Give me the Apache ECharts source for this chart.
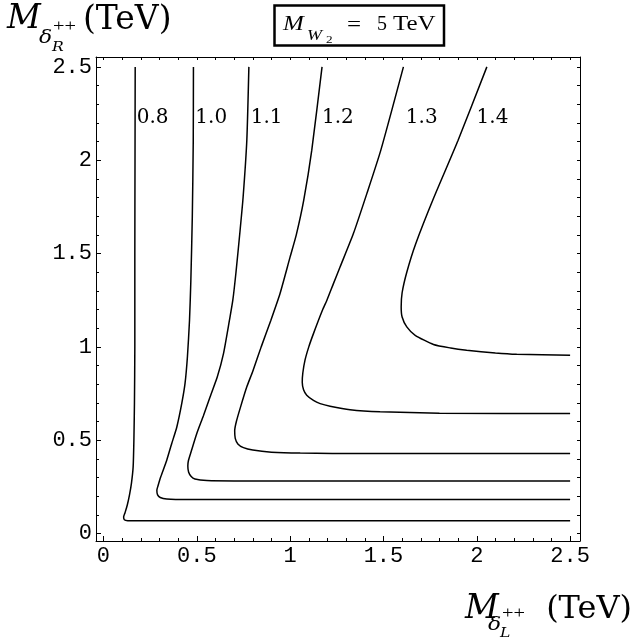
<!DOCTYPE html>
<html><head><meta charset="utf-8">
<script src="https://cdn.jsdelivr.net/npm/echarts@6/dist/echarts.min.js"></script>
<style>html,body{margin:0;padding:0;background:#fff}#c{width:636px;height:641px}</style>
</head><body><div id="c"></div><script>
// ---- data ----
const contourLevels = ['0.8', '1.0', '1.1', '1.2', '1.3', '1.4'];
const curve08 = [[0.170,2.5],[0.169,2.0],[0.168,1.5],[0.168,1.0],[0.166,0.7],[0.163,0.5],[0.159,0.357],[0.150,0.27],[0.140,0.21],[0.127,0.15],[0.115,0.11],[0.108,0.088],[0.112,0.074],[0.13,0.069],[0.18,0.068],[0.5,0.068],[1.5,0.068],[2.5,0.068]];
const curve10 = [[0.482,2.5],[0.481,2.1],[0.476,1.7],[0.468,1.35],[0.461,1.143],[0.450,0.95],[0.437,0.804],[0.420,0.70],[0.393,0.571],[0.365,0.48],[0.339,0.393],[0.307,0.304],[0.292,0.255],[0.286,0.232],[0.290,0.207],[0.304,0.193],[0.339,0.185],[0.45,0.182],[1.0,0.182],[2.5,0.182]];
const curve11 = [[0.779,2.5],[0.768,2.107],[0.748,1.8],[0.732,1.625],[0.710,1.4],[0.693,1.25],[0.675,1.143],[0.643,0.964],[0.610,0.84],[0.571,0.732],[0.535,0.63],[0.500,0.536],[0.470,0.44],[0.455,0.39],[0.452,0.362],[0.456,0.33],[0.470,0.305],[0.490,0.292],[0.554,0.284],[0.7,0.282],[1.2,0.282],[2.5,0.282]];
const curve12 = [[1.171,2.5],[1.116,2.054],[1.073,1.786],[1.033,1.6],[1.0,1.482],[0.946,1.286],[0.897,1.143],[0.845,1.0],[0.800,0.87],[0.768,0.786],[0.735,0.68],[0.712,0.6],[0.703,0.55],[0.706,0.51],[0.720,0.48],[0.750,0.46],[0.800,0.447],[0.900,0.436],[1.054,0.431],[1.4,0.4286],[2.5,0.4286]];
const curve13 = [[1.607,2.5],[1.486,2.054],[1.411,1.821],[1.339,1.607],[1.268,1.429],[1.232,1.339],[1.197,1.25],[1.173,1.196],[1.125,1.071],[1.100,1.0],[1.080,0.93],[1.068,0.86],[1.065,0.81],[1.072,0.77],[1.089,0.741],[1.125,0.713],[1.161,0.696],[1.214,0.682],[1.321,0.663],[1.482,0.652],[1.8,0.645],[2.5,0.643]];
const curve14 = [[2.054,2.5],[1.900,2.107],[1.770,1.80],[1.672,1.55],[1.625,1.40],[1.600,1.29],[1.595,1.214],[1.600,1.16],[1.625,1.107],[1.670,1.062],[1.768,1.013],[1.860,0.994],[1.946,0.982],[2.100,0.967],[2.214,0.960],[2.5,0.955]];
const labelPositions = [[0.178,2.229],[0.492,2.229],[0.789,2.229],[1.171,2.229],[1.620,2.229],[1.999,2.229]];
const majorTicks = [0, 0.5, 1, 1.5, 2, 2.5];
const tickLabels = ['0', '0.5', '1', '1.5', '2', '2.5'];
const minorTicks = [0,0.1,0.2,0.3,0.4,0.5,0.6,0.7,0.8,0.9,1.0,1.1,1.2,1.3,1.4,1.5,1.6,1.7,1.8,1.9,2.0,2.1,2.2,2.3,2.4,2.5];
const curves = [curve08, curve10, curve11, curve12, curve13, curve14];

// ---- chart ----
const AX_MIN = -0.04, AX_MAX = 2.553;
const serif = 'Liberation Serif';
const dserif = 'DejaVu Serif';
const tickFont = {fontFamily: 'Liberation Mono', fontSize: 22, color: '#000'};
function fmt(v) { const i = majorTicks.findIndex(t => Math.abs(t - v) < 1e-9); return i >= 0 ? tickLabels[i] : ''; }
function mkAxis(pos, kind) {
  const a = {type: 'value', min: AX_MIN, max: AX_MAX, position: pos, splitLine: {show: false}, z: 5};
  if (kind === 'major') {
    a.axisLine = {show: true, onZero: false, lineStyle: {color: '#000', width: 1}};
    a.axisTick = {show: true, inside: true, length: 5, customValues: majorTicks, lineStyle: {color: '#000', width: 1}};
    a.axisLabel = Object.assign({show: true, margin: 4, customValues: majorTicks, formatter: fmt}, tickFont);
  } else if (kind === 'minor') {
    a.axisLine = {show: false, onZero: false};
    a.axisTick = {show: true, inside: true, length: 3, customValues: minorTicks, lineStyle: {color: '#000', width: 1}};
    a.axisLabel = {show: false};
  } else {
    a.axisLine = {show: true, onZero: false, lineStyle: {color: '#000', width: 1}};
    a.axisTick = {show: true, inside: true, length: 3, customValues: minorTicks, lineStyle: {color: '#000', width: 1}};
    a.axisLabel = {show: false};
  }
  return a;
}
const series = curves.map(c => ({
  type: 'line', data: c, xAxisIndex: 0, yAxisIndex: 0, showSymbol: false, symbol: 'none',
  smooth: 0.2, lineStyle: {color: '#000', width: 1.5}, silent: true, z: 3
}));
series.push({
  type: 'scatter', xAxisIndex: 0, yAxisIndex: 0, symbolSize: 0, itemStyle: {color: '#000', opacity: 1}, silent: true, z: 4,
  data: labelPositions.map((p, i) => ({value: p, name: contourLevels[i]})),
  label: {show: true, position: 'right', distance: 0, formatter: p => p.name, opacity: 1,
    fontFamily: dserif, fontSize: 20, color: '#000'}
});
function txt(x, y, s, font, align, sx) {
  return {type: 'text', x: x, y: y, z: 10, scaleX: sx || 1,
    style: {text: s, font: font, fill: '#000', align: align || 'left', verticalAlign: 'middle'}};
}
const chart = echarts.init(document.getElementById('c'), null, {renderer: 'canvas'});
chart.setOption({
  animation: false,
  backgroundColor: '#fff',
  grid: {left: 96, top: 57, width: 484, height: 484, containLabel: false},
  xAxis: [mkAxis('bottom', 'major'), mkAxis('bottom', 'minor'), mkAxis('top', 'frame')],
  yAxis: [mkAxis('left', 'major'), mkAxis('left', 'minor'), mkAxis('right', 'frame')],
  series: series,
  graphic: [
    // y-axis title
    txt(7, 19.5, 'M', 'italic 33px ' + dserif),
    txt(39, 38, 'δ', 'italic 19px ' + dserif, 'left', 1.15),
    txt(53, 27, '++', '17px ' + serif, 'left', 1.2),
    txt(52, 47.5, 'R', 'italic 13px ' + dserif, 'left', 1.2),
    txt(83, 20.5, '(TeV)', '33px ' + dserif),
    // x-axis title
    txt(465, 609, 'M', 'italic 33px ' + dserif),
    txt(488, 625, 'δ', 'italic 19px ' + dserif, 'left', 1.15),
    txt(502, 614, '++', '17px ' + serif, 'left', 1.2),
    txt(500, 634, 'L', 'italic 13px ' + dserif, 'left', 1.2),
    txt(632, 610, '(TeV)', '32px ' + dserif, 'right'),
    // boxed label
    {type: 'rect', z: 9, shape: {x: 274.5, y: 5.5, width: 169.5, height: 40}, style: {fill: '#fff', stroke: '#000', lineWidth: 2.5}},
    txt(283, 25, 'M', 'italic 20px ' + serif, 'left', 1.25),
    txt(307, 36.5, 'W', 'italic 15px ' + serif, 'left', 1.2),
    txt(326, 40.5, '2', '11px ' + serif, 'left', 1.2),
    txt(347, 25.5, '=', '20px ' + serif, 'left', 1.25),
    txt(377, 25, '5', '20px ' + serif),
    txt(393, 25, 'TeV', '20px ' + serif, 'left', 1.25)
  ]
});
</script></body></html>
